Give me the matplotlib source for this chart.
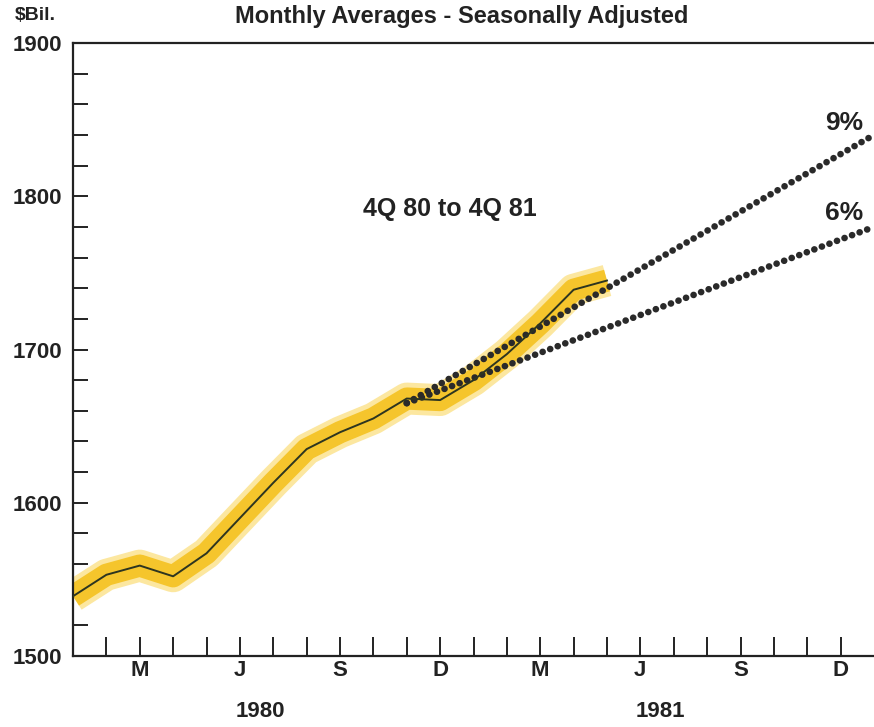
import matplotlib
matplotlib.use("Agg")
import matplotlib.pyplot as plt
import numpy as np

plt.rcParams['font.family'] = ['Liberation Sans', 'DejaVu Sans']

# months since Jan 1980 (0 = Jan 1980)
months = [0, 1, 2, 3, 4, 5, 6, 7, 8, 9, 10, 11, 12, 13, 14, 15, 16]
values = [1539, 1553, 1559, 1552, 1567, 1590, 1613, 1635, 1646, 1655, 1668, 1667,
          1680, 1697, 1717, 1739, 1745]

# target paths from 4Q 80 average (centered on Nov 1980) to Jan 1982
path_x = [10, 24]
path_9 = [1665, 1840]
path_6 = [1665, 1780]

month_ticks = list(range(1, 24))
label_pos = [2, 5, 8, 11, 14, 17, 20, 23]
label_txt = ['M', 'J', 'S', 'D', 'M', 'J', 'S', 'D']
years = ['1980', '1981']
year_pos = [5.6, 17.6]

fig = plt.figure(figsize=(8.74, 7.27), dpi=100)
ax = fig.add_axes([73 / 874, 1 - 656 / 727, 1 - 73 / 874, (656 - 43) / 727])

# yellow highlight band + dark line
ax.plot(months, values, color='#fce7a0', lw=23, solid_capstyle='butt',
        solid_joinstyle='round', zorder=1)
ax.plot(months, values, color='#f5c52c', lw=16, solid_capstyle='butt',
        solid_joinstyle='round', zorder=2)
ax.plot(months, values, color='#2d3520', lw=1.4, zorder=4)

# dotted growth paths
dot_style = (0, (0.01, 1.2))
for py in (path_9, path_6):
    ax.plot(path_x, py, color='#2a2a2a', lw=4.8, linestyle=dot_style,
            dash_capstyle='round', zorder=3)

ax.set_xlim(0, 24)
ax.set_ylim(1500, 1900)

ax.spines['right'].set_visible(False)
for s in ('left', 'top', 'bottom'):
    ax.spines[s].set_linewidth(1.6)
    ax.spines[s].set_color('#222222')

ax.set_yticks([1500, 1600, 1700, 1800, 1900])
ax.set_yticks(np.arange(1500, 1900, 20), minor=True)
ax.tick_params(axis='y', which='both', direction='in', length=11, width=1.4,
               colors='#222222', pad=8)
ax.tick_params(axis='y', labelsize=16)
for t in ax.get_yticklabels():
    t.set_fontweight('bold')

ax.set_xticks(month_ticks)
ax.set_xticklabels([])
ax.tick_params(axis='x', which='both', direction='in', length=14, width=1.4,
               colors='#222222')
for p, t in zip(label_pos, label_txt):
    ax.text(p, -0.024, t, transform=ax.get_xaxis_transform(), ha='center',
            va='center', fontsize=16, fontweight='bold', color='#222222')
for p, t in zip(year_pos, years):
    ax.text(p, -0.091, t, transform=ax.get_xaxis_transform(), ha='center',
            va='center', fontsize=16, fontweight='bold', color='#222222')

ax.text(11.3, 1792, '4Q 80 to 4Q 81', ha='center', va='center', fontsize=18,
        fontweight='bold', color='#222222')
ax.text(23.1, 1848, '9%', ha='center', va='center', fontsize=19,
        fontweight='bold', color='#222222')
ax.text(23.1, 1789, '6%', ha='center', va='center', fontsize=19,
        fontweight='bold', color='#222222')

fig.text(15 / 874, 1 - 15 / 727, '$Bil.', ha='left', va='center', fontsize=14,
         fontweight='bold', color='#222222')
fig.text(462 / 874, 1 - 16 / 727, 'Monthly Averages - Seasonally Adjusted',
         ha='center', va='center', fontsize=17, fontweight='bold', color='#222222')

fig.savefig('out.png', dpi=100)
